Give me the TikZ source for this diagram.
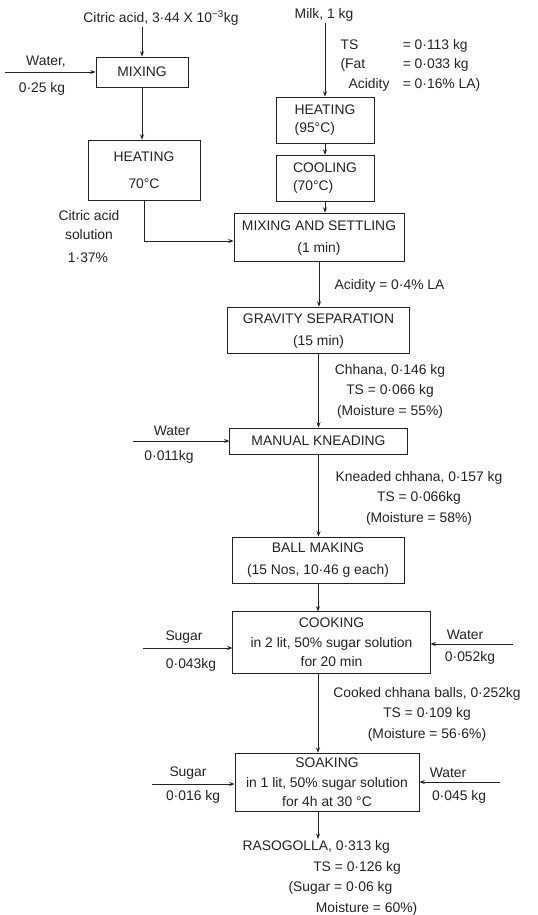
\documentclass[tikz,border=0pt]{standalone}
\usepackage{fontspec}
\setmainfont{Liberation Sans}
\usepackage{xcolor}
\usepackage{tikz}
\usetikzlibrary{arrows.meta, positioning, calc}
\definecolor{inkgray}{RGB}{35,35,35}
\tikzset{
  process/.style={
    rectangle, draw=inkgray, line width=0.6pt, align=center, inner sep=2pt,
    font=\fontsize{10.4}{16}\selectfont, text=inkgray
  },
  flowlabel/.style={
    align=center, inner sep=1pt, font=\fontsize{10.4}{15.4}\selectfont,
    text=inkgray
  },
  arrow/.style={-{Stealth[length=4pt,width=3pt]}, line width=0.6pt, color=inkgray}
}

\begin{document}
\begin{tikzpicture}[x=0.75pt, y=-0.75pt]
  \useasboundingbox (0,0) rectangle (537,915);

  % Citric acid line
  \node[flowlabel] (citric) at (161,18) {Citric acid, 3·44 X 10\textsuperscript{−3}kg};
  \node[process, minimum width=69pt, minimum height=22.5pt] (mix) at (142,72)
    {MIXING};
  \node[process, minimum width=84pt, minimum height=45pt] (heat1) at (144,170)
    {HEATING\\[4pt]70°C};
  \coordinate (waterA) at (5,72);
  \node[flowlabel] (waterAlbl) at (46,62) {Water,};
  \node[flowlabel] (waterAamt) at (42,89) {0·25 kg};
  \node[flowlabel, font=\fontsize{10.4}{14}\selectfont] (solnlbl) at (89,225)
    {Citric acid\\solution};
  \node[flowlabel] (solnconc) at (88,258) {1·37\%};

  \draw[arrow] (mix.north |- citric.south) -- (mix.north);
  \draw[arrow] (waterA) -- (mix.west);
  \draw[arrow] (mix.south) -- (mix.south |- heat1.north);

  % Milk line
  \node[flowlabel] (milk) at (324,15) {Milk, 1 kg};
  \node[flowlabel, anchor=north west] (milkcomp) at (339,34)
    {\renewcommand{\arraystretch}{0.95}%
     \begin{tabular}{@{}l@{\hspace{10pt}}l@{}}
       TS & = 0·113 kg\\
       (Fat & = 0·033 kg\\
       \hspace*{6pt}Acidity & = 0·16\% LA)
     \end{tabular}};
  \node[process, align=left, minimum width=73.5pt, minimum height=34.5pt,
        font=\fontsize{10.4}{13.5}\selectfont] (heat2) at (325,120)
    {HEATING\\(95°C)};
  \node[process, align=left, minimum width=73.5pt, minimum height=35pt,
        font=\fontsize{10.4}{13.5}\selectfont] (cool) at (325,178.5)
    {COOLING\\(70°C)};

  \draw[arrow] (heat2.north |- milk.south) -- (heat2.north);
  \draw[arrow] (heat2.south) -- (cool.north);

  % Main line
  \node[process, minimum width=127.5pt, minimum height=36pt] (mixset) at (319,237)
    {\rule{0pt}{9pt}MIXING AND SETTLING\\(1 min)};
  \node[process, minimum width=136pt, minimum height=34.5pt] (grav) at (318.5,330)
    {\rule{0pt}{9pt}GRAVITY SEPARATION\\(15 min)};
  \node[process, minimum width=133pt, minimum height=19.5pt] (knead) at (318.5,441)
    {MANUAL KNEADING};
  \node[process, minimum width=129pt, minimum height=34.5pt] (ball) at (318,560)
    {BALL MAKING\\(15 Nos, 10·46 g each)};
  \node[process, minimum width=148pt, minimum height=46pt,
        font=\fontsize{10.4}{14.6}\selectfont] (cook) at (331.5,642.5)
    {COOKING\\in 2 lit, 50\% sugar solution\\for 20 min};
  \node[process, minimum width=138pt, minimum height=44pt,
        font=\fontsize{10.4}{14.6}\selectfont] (soak) at (327,782.5)
    {SOAKING\\in 1 lit, 50\% sugar solution\\for 4h at 30 °C};
  \node[flowlabel, anchor=north west, align=left] (raso) at (241,839)
    {RASOGOLLA, 0·313 kg\\
     \hspace*{53pt}TS = 0·126 kg\\
     \hspace*{34.5pt}(Sugar = 0·06 kg\\
     \hspace*{55pt}Moisture = 60\%)};

  \draw[arrow] (heat1.south) |- ([yshift=-3pt]mixset.west);
  \draw[arrow] (cool.south) -- (cool.south |- mixset.north);
  \draw[arrow] (mixset.south) -- (mixset.south |- grav.north);
  \draw[arrow] (grav.south) -- (grav.south |- knead.north);
  \draw[arrow] (knead.south) -- (knead.south |- ball.north);
  \draw[arrow] (ball.south) -- (ball.south |- cook.north);
  \draw[arrow] (cook.south -| ball.south) -- (soak.north -| ball.south);
  \draw[arrow] (soak.south -| ball.south) -- (raso.north -| ball.south);

  % Stream labels
  \node[flowlabel, anchor=west] (acidlbl) at (333,286) {Acidity = 0·4\% LA};
  \node[flowlabel] (chhanalbl) at (390,391)
    {Chhana, 0·146 kg\\TS = 0·066 kg\\(Moisture = 55\%)};
  \node[flowlabel] (kneadlbl) at (419,498)
    {Kneaded chhana, 0·157 kg\\TS = 0·066kg\\(Moisture = 58\%)};
  \node[flowlabel] (cookedlbl) at (427,714)
    {Cooked chhana balls, 0·252kg\\TS = 0·109 kg\\(Moisture = 56·6\%)};

  % Side feeds
  \coordinate (waterB) at (133,441);
  \node[flowlabel] (waterBlbl) at (172,431) {Water};
  \node[flowlabel] (waterBamt) at (169,457) {0·011kg};
  \draw[arrow] (waterB) -- (knead.west);

  \coordinate (sugarA) at (143,648);
  \node[flowlabel] (sugarAlbl) at (184,637) {Sugar};
  \node[flowlabel] (sugarAamt) at (191,665) {0·043kg};
  \draw[arrow] (sugarA) -- (sugarA -| cook.west);

  \coordinate (waterC) at (513,644);
  \node[flowlabel] (waterClbl) at (465,635) {Water};
  \node[flowlabel] (waterCamt) at (470,658) {0·052kg};
  \draw[arrow] (waterC) -- (waterC -| cook.east);

  \coordinate (sugarB) at (152,784);
  \node[flowlabel] (sugarBlbl) at (188,773) {Sugar};
  \node[flowlabel] (sugarBamt) at (193,797) {0·016 kg};
  \draw[arrow] (sugarB) -- (sugarB -| soak.west);

  \coordinate (waterD) at (500,782);
  \node[flowlabel] (waterDlbl) at (448,773) {Water};
  \node[flowlabel] (waterDamt) at (459,797) {0·045 kg};
  \draw[arrow] (waterD) -- (waterD -| soak.east);
\end{tikzpicture}
\end{document}
